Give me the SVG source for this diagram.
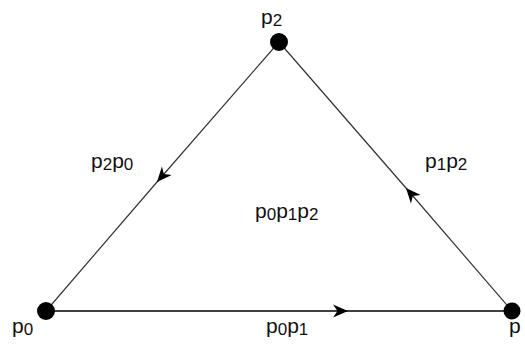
<svg xmlns="http://www.w3.org/2000/svg" width="525" height="345" viewBox="0 0 525 345">
<style>
.lbl{font-family:"Liberation Sans",Arial,sans-serif;font-size:21px;fill:#111}
.sub{font-size:17px}
.edge{fill:none;stroke:#333;stroke-width:1.2}
.dot{fill:#000}
</style>
<defs>
<marker id="arr" markerUnits="userSpaceOnUse" markerWidth="18" markerHeight="14" refX="15" refY="6.5" orient="auto" overflow="visible">
<path d="M0,0 L15,6.5 L0,13 L4.5,6.5 Z" fill="#000"/>
</marker>
</defs>
<rect width="525" height="345" fill="#fff"/>
<g id="connectors">
<path class="edge" d="M279,42 L157,182 L46,311" marker-mid="url(#arr)"/>
<path class="edge" d="M512,311 L406,188 L279,42" marker-mid="url(#arr)"/>
<path class="edge" style="stroke:#000;stroke-width:1.5" d="M46,311 L348,311 L512,311" marker-mid="url(#arr)"/>
</g>
<g id="p0"><circle class="dot" cx="46" cy="311" r="9"/><text class="lbl" x="12" y="333">p<tspan class="sub" dy="2">0</tspan></text></g>
<g id="p1"><circle class="dot" cx="512" cy="311" r="8.5"/><text class="lbl" x="509" y="333">p</text></g>
<g id="p2"><circle class="dot" cx="279" cy="42" r="9"/><text class="lbl" x="261" y="24">p<tspan class="sub" dy="2">2</tspan></text></g>
<g id="edge-labels">
<text class="lbl" x="91" y="168">p<tspan class="sub" dy="2">2</tspan><tspan dy="-2">p</tspan><tspan class="sub" dy="2">0</tspan></text>
<text class="lbl" x="425" y="168">p<tspan class="sub" dy="2">1</tspan><tspan dy="-2">p</tspan><tspan class="sub" dy="2">2</tspan></text>
<text class="lbl" x="266" y="333">p<tspan class="sub" dy="2">0</tspan><tspan dy="-2">p</tspan><tspan class="sub" dy="2">1</tspan></text>
</g>
<g id="face"><text class="lbl" x="255" y="218">p<tspan class="sub" dy="2">0</tspan><tspan dy="-2">p</tspan><tspan class="sub" dy="2">1</tspan><tspan dy="-2">p</tspan><tspan class="sub" dy="2">2</tspan></text></g>
</svg>
